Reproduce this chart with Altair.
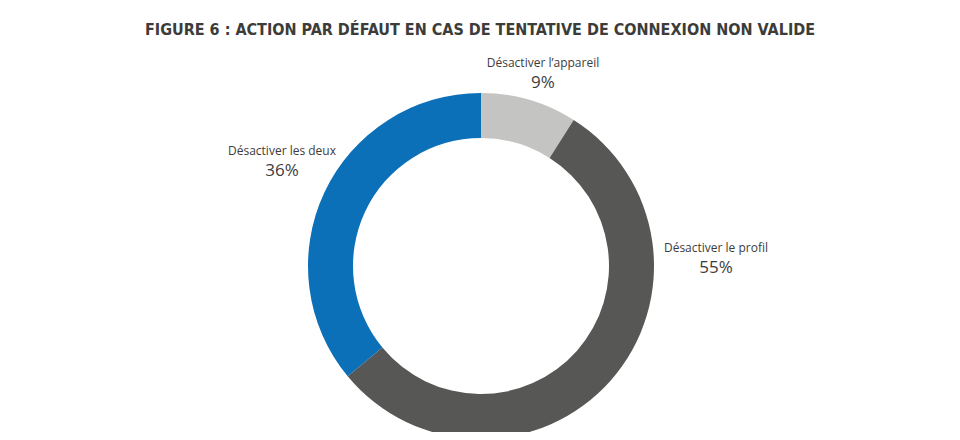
import altair as alt
import pandas as pd

categories = ["Désactiver l’appareil", "Désactiver le profil", "Désactiver les deux"]
values = [9, 55, 36]
colors = ["#c4c4c2", "#575756", "#0b70b8"]

df = pd.DataFrame({
    "cat": categories,
    "val": values,
    "ord": list(range(len(categories))),
    "pct": [f"{v}%" for v in values],
})

# label anchor positions (plot coordinates)
label_pos = [(535, 55), (708, 240), (274, 143)]

W, H = 944, 424
CX, CY = 473, 258

base = alt.Chart(df)
donut = base.mark_arc(outerRadius=173, innerRadius=128, stroke=None).encode(
    theta=alt.Theta("val:Q", stack=True),
    order=alt.Order("ord:Q"),
    color=alt.Color("cat:N", scale=alt.Scale(domain=categories, range=colors), legend=None),
    x=alt.value(CX),
    y=alt.value(CY),
)

layers = [donut]
for i, (lx, ly) in enumerate(label_pos):
    sub = base.transform_filter(alt.datum.ord == i)
    layers.append(sub.mark_text(font="Open Sans", fontSize=12, color="#3c3c3b", align="center", baseline="middle").encode(
        text="cat:N", x=alt.value(lx), y=alt.value(ly)))
    layers.append(sub.mark_text(font="Open Sans", fontSize=17, color="#3c3c3b", align="center", baseline="middle").encode(
        text="pct:N", x=alt.value(lx), y=alt.value(ly + 20)))

chart = alt.layer(*layers).properties(
    width=W, height=H,
    autosize=alt.AutoSizeParams(type="none"),
    padding=0,
    title=alt.TitleParams(
        "FIGURE 6 : ACTION PAR DÉFAUT EN CAS DE TENTATIVE DE CONNEXION NON VALIDE",
        font="DejaVu Sans Condensed", fontSize=16, fontWeight="bold", color="#3c3c3b",
        anchor="middle", frame="group", orient="top", offset=-30, dy=0,
    ),
).configure_view(stroke=None)

chart.save("out.html", embed_options={"renderer": "svg", "actions": False})
